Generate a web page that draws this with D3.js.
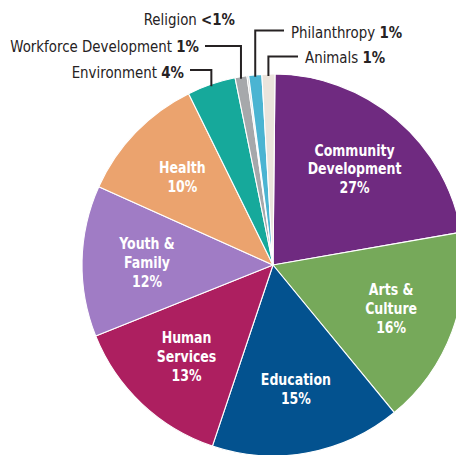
<!DOCTYPE html>
<html>
<head>
<meta charset="utf-8">
<script src="https://cdn.jsdelivr.net/npm/d3@7"></script>
<style>
  html, body { margin: 0; padding: 0; background: #fff; }
  svg { display: block; }
  text { font-family: "DejaVu Sans Condensed", "Liberation Sans Narrow", "Noto Sans", sans-serif; font-stretch: condensed; }
</style>
</head>
<body>
<svg id="chart" width="456" height="455"></svg>
<script>
// ---- data ----
const categories = ["Community Development", "Arts & Culture", "Education", "Human Services",
  "Youth & Family", "Health", "Environment", "Workforce Development", "Religion", "Philanthropy", "Animals"];
// share of the circle each slice occupies in the picture
const sliceShares = [22.1, 16.8, 16.1, 13.8, 12.8, 11.0, 4.1, 1.0, 0.15, 1.1, 1.1];
// printed percentage labels
const labelPcts = ["27%", "16%", "15%", "13%", "12%", "10%", "4%", "1%", "<1%", "1%", "1%"];
const innerLabelLines = [["Community", "Development"], ["Arts &", "Culture"], ["Education"],
  ["Human", "Services"], ["Youth &", "Family"], ["Health"]];
const colors = ["#6f2a80", "#76a95a", "#03528f", "#ad1f60", "#a07cc5", "#eba36e",
  "#16a99b", "#a6a8ab", "#c9c9c9", "#4bb4d2", "#ebe4dc"];

// ---- layout ----
const W = 456, H = 455;
const cx = 273, cy = 265, R = 191;
const deg = Math.PI / 180;
const startDeg = 0.6;
const labelR = 126;
const lineH = 19;
const innerSX = 0.87, outerSX = 0.93;

const svg = d3.select("#chart");
const g = svg.append("g").attr("transform", `translate(${cx},${cy})`);

const pie = d3.pie().sort(null).value(d => d)
  .startAngle(startDeg * deg).endAngle((360 + startDeg) * deg);
const arcs = pie(sliceShares);
const arc = d3.arc().innerRadius(0).outerRadius(R);

g.selectAll("path.slice").data(arcs).join("path")
  .attr("class", "slice")
  .attr("d", arc)
  .attr("fill", (d, i) => colors[i])
  .attr("stroke", "#fff")
  .attr("stroke-width", 1.1)
  .attr("stroke-linejoin", "round");

// inner labels
arcs.slice(0, innerLabelLines.length).forEach((d, i) => {
  const mid = (d.startAngle + d.endAngle) / 2;
  const x = labelR * Math.sin(mid);
  const y = -labelR * Math.cos(mid);
  const lines = innerLabelLines[i].concat([labelPcts[i]]);
  const n = lines.length;
  const t = g.append("g")
    .attr("transform", `translate(${x},${y}) scale(${innerSX},1)`)
    .append("text")
    .attr("text-anchor", "middle")
    .attr("fill", "#fff")
    .attr("font-weight", "bold")
    .attr("font-size", 16);
  lines.forEach((ln, k) => {
    t.append("tspan")
      .attr("x", 0)
      .attr("y", (k - (n - 1) / 2) * lineH + 5.5)
      .text(ln);
  });
});

// callout labels for small slices (top)
const callouts = [
  { idx: 6, side: "left", textX: 184, baseline: 77.5, elbowY: 70 },
  { idx: 7, side: "left", textX: 199, baseline: 51.5, elbowY: 46 },
  { idx: 8, side: "none", textX: 235, baseline: 25 },
  { idx: 9, side: "right", textX: 291, baseline: 37.5, elbowY: 30.5 },
  { idx: 10, side: "right", textX: 305, baseline: 62.5, elbowY: 56.5 }
];
const ink = "#262223";
callouts.forEach(c => {
  const d = arcs[c.idx];
  const t = svg.append("g")
    .attr("transform", `translate(${c.textX},${c.baseline}) scale(${outerSX},1)`)
    .append("text")
    .attr("x", 0).attr("y", 0)
    .attr("text-anchor", c.side === "right" ? "start" : "end")
    .attr("fill", ink)
    .attr("font-size", 16);
  t.append("tspan").text(categories[c.idx] + " ");
  t.append("tspan").attr("font-weight", "bold").text(labelPcts[c.idx]);
  if (c.side === "none") return;
  const mid = (d.startAngle + d.endAngle) / 2;
  const px = cx + R * Math.sin(mid);
  const py = cy - R * Math.cos(mid);
  const x0 = c.side === "left" ? c.textX + 6 : c.textX - 7;
  svg.append("path")
    .attr("d", `M${x0},${c.elbowY}H${px}V${py + 2}`)
    .attr("fill", "none")
    .attr("stroke", ink)
    .attr("stroke-width", 2);
});
</script>
</body>
</html>
